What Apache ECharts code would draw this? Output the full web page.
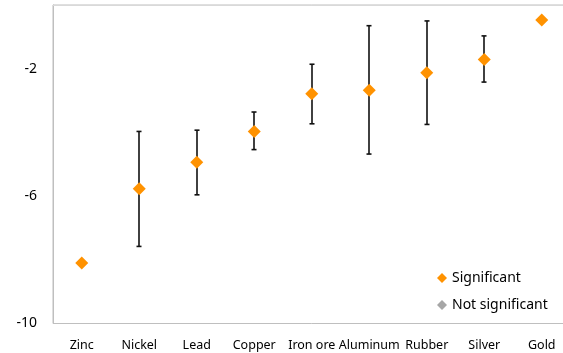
<!DOCTYPE html>
<html>
<head>
<meta charset="utf-8">
<script src="https://cdn.jsdelivr.net/npm/echarts@6/dist/echarts.min.js"></script>
<style>html,body{margin:0;padding:0;background:#fff;overflow:hidden;}#c{width:571px;height:353px;}</style>
</head>
<body>
<div id="c"></div>
<script>
const categories = ['Zinc','Nickel','Lead','Copper','Iron ore','Aluminum','Rubber','Silver','Gold'];
const estimates = [-8.1, -5.77, -4.94, -3.97, -2.79, -2.68, -2.13, -1.71, -0.47];
const lower = [null, -7.58, -5.96, -4.54, -3.73, -4.68, -3.75, -2.42, null];
const upper = [null, -3.97, -3.93, -3.36, -1.86, -0.65, -0.50, -0.97, null];
const notSignificant = [];

const errData = [];
categories.forEach((c, i) => { if (lower[i] !== null) errData.push([i, lower[i], upper[i]]); });

const chart = echarts.init(document.getElementById('c'), null, {renderer: 'canvas'});
const FONT = 'Noto Sans';
chart.setOption({
  animation: false,
  backgroundColor: '#fff',
  grid: {left: 53, top: 5, bottom: 29.5, right: 0.5, show: true, borderColor: '#bfbfbf', borderWidth: 1},
  legend: {
    orient: 'vertical', left: 432, top: 266, itemWidth: 10, itemHeight: 10, itemGap: 13,
    textStyle: {fontFamily: FONT, fontSize: 14, color: '#000'},
    data: [{name: 'Significant', icon: 'diamond'}, {name: 'Not significant', icon: 'diamond'}]
  },
  xAxis: {
    type: 'category', data: categories,
    axisLine: {show: true, lineStyle: {color: '#d9d9d9', width: 1}},
    axisTick: {show: false},
    axisLabel: {fontFamily: FONT, fontSize: 12.5, color: '#000', margin: 15, interval: 0},
    splitLine: {show: false}
  },
  yAxis: {
    type: 'value', min: -10, max: 0, interval: 4,
    axisLine: {show: true, lineStyle: {color: '#bfbfbf'}},
    axisTick: {show: false},
    splitLine: {show: false},
    axisLabel: {fontFamily: FONT, fontSize: 14, color: '#000', margin: 16, showMaxLabel: false,
      formatter: v => (v === 0 ? '' : String(v))}
  },
  series: [
    {
      type: 'custom', name: 'err', z: 2, silent: true,
      data: errData,
      renderItem: function (params, api) {
        const x = api.value(0);
        const lo = api.coord([x, api.value(1)]);
        const hi = api.coord([x, api.value(2)]);
        const cx = Math.round(lo[0]) ;
        const w = 2.5;
        const style = {stroke: '#111', lineWidth: 1.6};
        return {type: 'group', children: [
          {type: 'line', shape: {x1: cx, y1: lo[1], x2: cx, y2: hi[1]}, style: style},
          {type: 'line', shape: {x1: cx - w, y1: lo[1], x2: cx + w, y2: lo[1]}, style: style},
          {type: 'line', shape: {x1: cx - w, y1: hi[1], x2: cx + w, y2: hi[1]}, style: style}
        ]};
      }
    },
    {
      type: 'scatter', name: 'Significant', z: 5, symbol: 'diamond', symbolSize: 13,
      itemStyle: {color: '#ff9200', opacity: 1},
      data: estimates
    },
    {
      type: 'scatter', name: 'Not significant', z: 5, symbol: 'diamond', symbolSize: 13,
      itemStyle: {color: '#a6a6a6', opacity: 1},
      data: notSignificant
    }
  ]
});
</script>
</body>
</html>
